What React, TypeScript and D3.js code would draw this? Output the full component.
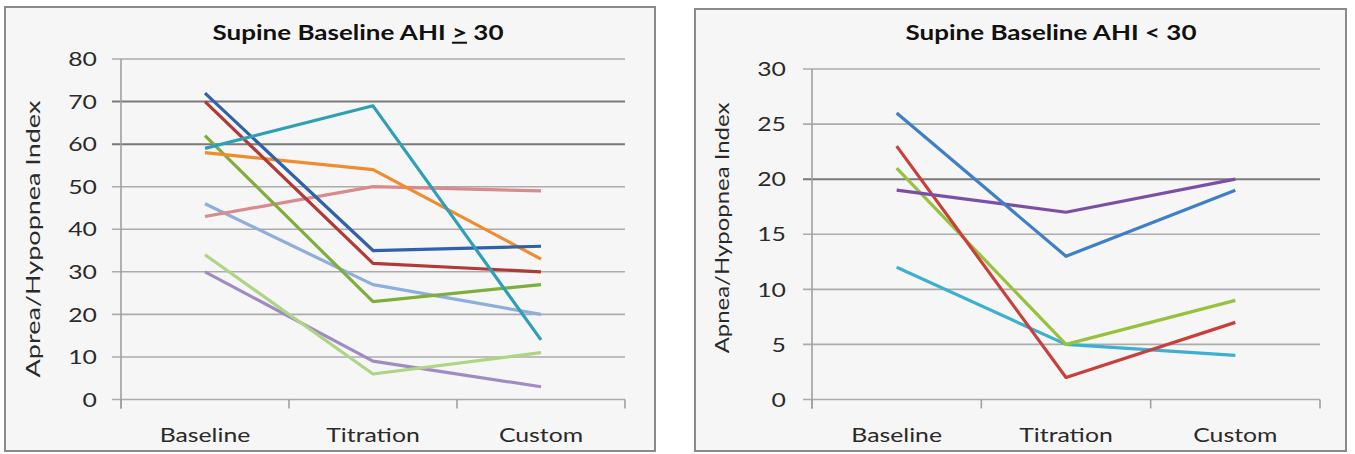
import React from "react";
import * as d3 from "d3";

const categories = ["Baseline", "Titration", "Custom"];

const leftTicks = [0, 10, 20, 30, 40, 50, 60, 70, 80];
const rightTicks = [0, 5, 10, 15, 20, 25, 30];

// Left panel: Supine Baseline AHI >= 30
const leftBlue = [72, 35, 36];
const leftRed = [70, 32, 30];
const leftGreen = [62, 23, 27];
const leftTeal = [59, 69, 14];
const leftOrange = [58, 54, 33];
const leftPink = [43, 50, 49];
const leftLightBlue = [46, 27, 20];
const leftLightGreen = [34, 6, 11];
const leftPurple = [30, 9, 3];

// Right panel: Supine Baseline AHI < 30
const rightBlue = [26, 13, 19];
const rightRed = [23, 2, 7];
const rightGreen = [21, 5, 9];
const rightPurple = [19, 17, 20];
const rightAqua = [12, 5, 4];

const FONT = "Lato, 'Open Sans', 'DejaVu Sans', sans-serif";
const SX = 1.24; // horizontal stretch of the reference's text

type Series = { values: number[]; color: string };

type PanelProps = {
  box: [number, number, number, number];
  plot: { x0: number; x1: number; yTop: number; yBottom: number };
  yMax: number;
  ticks: number[];
  darkGrid: number[];
  title: React.ReactNode;
  titleX: number;
  yLabel: string;
  yLabelX: number;
  yLabelY: number;
  yLabelScale: number;
  tickGap: number;
  series: Series[];
};

function Panel(p: PanelProps) {
  const [bx, by, bw, bh] = p.box;
  const x = d3.scaleBand().domain(categories).range([p.plot.x0, p.plot.x1]);
  const y = d3.scaleLinear().domain([0, p.yMax]).range([p.plot.yBottom, p.plot.yTop]);
  const line = d3
    .line<number>()
    .x((_, i) => (x(categories[i]) as number) + x.bandwidth() / 2)
    .y((v) => y(v));
  const boundaries = d3.range(categories.length + 1).map((i) => p.plot.x0 + i * x.step());
  return (
    <g>
      <rect x={bx} y={by} width={bw} height={bh} fill="#f6f6f6" stroke="#8a8a8a" strokeWidth={2} />
      <text
        transform={`translate(${p.titleX},40) scale(1.3,1)`}
        textAnchor="middle"
        fontFamily={FONT}
        fontWeight="bold"
        fontSize={20}
        fill="#111"
      >
        {p.title}
      </text>
      {p.ticks.map((t) => (
        <g key={t}>
          <line
            x1={p.plot.x0 - 9}
            x2={p.plot.x1}
            y1={y(t)}
            y2={y(t)}
            stroke={p.darkGrid.includes(t) ? "#7a7a7a" : "#ababab"}
            strokeWidth={p.darkGrid.includes(t) ? 2 : 1.6}
          />
          <text
            transform={`translate(${p.plot.x0 - p.tickGap},${y(t)}) scale(${SX},1)`}
            dy="0.36em"
            textAnchor="end"
            fontFamily={FONT}
            fontSize={20}
            fill="#2a2a2a"
          >
            {t}
          </text>
        </g>
      ))}
      <line x1={p.plot.x0} x2={p.plot.x0} y1={y(p.yMax)} y2={p.plot.yBottom + 9} stroke="#a0a0a0" strokeWidth={1.6} />
      {boundaries.map((bxv, i) => (
        <line key={i} x1={bxv} x2={bxv} y1={p.plot.yBottom} y2={p.plot.yBottom + 9} stroke="#a0a0a0" strokeWidth={1.6} />
      ))}
      {categories.map((c) => (
        <text
          key={c}
          transform={`translate(${(x(c) as number) + x.bandwidth() / 2},442) scale(${SX},1)`}
          textAnchor="middle"
          fontFamily={FONT}
          fontSize={20}
          fill="#2a2a2a"
        >
          {c}
        </text>
      ))}
      <text
        transform={`translate(${p.yLabelX},${p.yLabelY}) rotate(-90) scale(${p.yLabelScale},1)`}
        textAnchor="middle"
        fontFamily={FONT}
        fontSize={19}
        fill="#2a2a2a"
      >
        {p.yLabel}
      </text>
      {p.series.map((s, i) => (
        <path key={i} d={line(s.values) as string} fill="none" stroke={s.color} strokeWidth={3.2} strokeLinejoin="round" />
      ))}
    </g>
  );
}

export default function App() {
  const leftSeries: Series[] = [
    { values: leftPurple, color: "#a08cc2" },
    { values: leftLightGreen, color: "#aed583" },
    { values: leftLightBlue, color: "#8eaedb" },
    { values: leftPink, color: "#d98a8c" },
    { values: leftGreen, color: "#7fae3c" },
    { values: leftOrange, color: "#f08c2e" },
    { values: leftRed, color: "#b23a36" },
    { values: leftBlue, color: "#2f62aa" },
    { values: leftTeal, color: "#2f9fb8" },
  ];
  const rightSeries: Series[] = [
    { values: rightAqua, color: "#3cb0d0" },
    { values: rightGreen, color: "#98c13e" },
    { values: rightRed, color: "#c8403c" },
    { values: rightPurple, color: "#7a4fa6" },
    { values: rightBlue, color: "#3f7fc8" },
  ];
  return (
    <svg width={1355} height={454} style={{ position: "absolute", left: 0, top: 0, background: "#fff" }}>
      <Panel
        box={[5, 7, 650, 444]}
        plot={{ x0: 121, x1: 625, yTop: 59, yBottom: 399.5 }}
        yMax={80}
        ticks={leftTicks}
        darkGrid={[60, 70]}
        title={
          <>
            Supine Baseline AHI <tspan textDecoration="underline">&gt;</tspan> 30
          </>
        }
        titleX={358}
        yLabel="Aprea/Hypopnea Index"
        yLabelX={40}
        yLabelY={239}
        yLabelScale={1.42}
        tickGap={24}
        series={leftSeries}
      />
      <Panel
        box={[695, 9, 651, 442]}
        plot={{ x0: 812, x1: 1320, yTop: 69, yBottom: 399.5 }}
        yMax={30}
        ticks={rightTicks}
        darkGrid={[20]}
        title={<>Supine Baseline AHI &lt; 30</>}
        titleX={1051}
        yLabel="Apnea/Hypopnea Index"
        yLabelX={729}
        yLabelY={228}
        yLabelScale={1.26}
        tickGap={26}
        series={rightSeries}
      />
    </svg>
  );
}
